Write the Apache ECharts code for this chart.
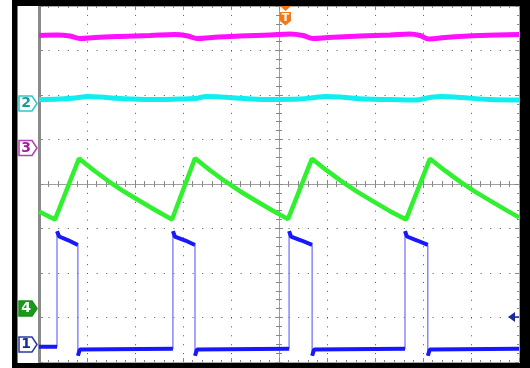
<!DOCTYPE html>
<html>
<head>
<meta charset="utf-8">
<script src="https://cdn.jsdelivr.net/npm/echarts@6/dist/echarts.min.js"></script>
<style>
html,body{margin:0;padding:0;background:#fff;}
#c{width:530px;height:368px;}
</style>
</head>
<body>
<div id="c"></div>
<script>
// Time axis: divisions -5..5, vertical axis: divisions -4..4
var timeDivs = [-5, 5];
var voltDivs = [-4, 4];

// Channel 3 (magenta) trace: [time div, vertical div]
var ch3Magenta = [
  [-5,3.337],[-4.625,3.348],[-4.354,3.326],[-4.146,3.270],[-3.833,3.292],[-3.313,3.315],
  [-2.688,3.337],[-2.167,3.360],[-1.896,3.326],[-1.708,3.270],[-1.396,3.292],[-0.813,3.326],
  [-0.188,3.348],[0.229,3.371],[0.5,3.337],[0.708,3.270],[1.021,3.292],[1.688,3.326],
  [2.313,3.348],[2.729,3.371],[2.938,3.337],[3.125,3.258],[3.458,3.292],[4.188,3.337],[5,3.360]
];

// Channel 2 (cyan) trace
var ch2Cyan = [
  [-5,1.899],[-4.563,1.910],[-4.25,1.933],[-3.979,1.966],[-3.729,1.955],[-3.313,1.921],
  [-2.688,1.899],[-2.063,1.910],[-1.75,1.921],[-1.5,1.966],[-1.229,1.955],[-0.708,1.921],
  [-0.188,1.899],[0.438,1.910],[0.75,1.944],[0.958,1.966],[1.271,1.955],[1.792,1.910],
  [2.313,1.899],[2.833,1.888],[3.146,1.944],[3.396,1.966],[3.771,1.944],[4.396,1.899],[5,1.888]
];

// Channel 4 (green) sawtooth trace
var ch4Green = [
  [-5,-0.62],[-4.667,-0.80],
  [-4.167,0.573],[-3.854,0.303],[-3.542,0.056],[-3.229,-0.169],[-2.917,-0.371],[-2.563,-0.596],[-2.229,-0.798],
  [-1.75,0.58],[-1.438,0.31],[-1.125,0.063],[-0.813,-0.162],[-0.5,-0.364],[-0.146,-0.589],[0.1875,-0.79],
  [0.6875,0.57],[1.0,0.30],[1.313,0.053],[1.625,-0.172],[1.938,-0.374],[2.292,-0.599],[2.646,-0.80],
  [3.146,0.57],[3.458,0.30],[3.771,0.053],[4.083,-0.172],[4.396,-0.374],[4.75,-0.599],[5.0,-0.75]
];

// Channel 1 (blue) pulse trace
var ch1Blue = [
  [-5,-3.66],[-4.625,-3.66],[-4.625,-1.06],[-4.58,-1.18],[-4.40,-1.26],[-4.19,-1.37],
  [-4.19,-3.86],[-4.15,-3.72],[-2.21,-3.70],[-2.21,-1.06],[-2.17,-1.18],[-1.95,-1.27],[-1.75,-1.37],
  [-1.75,-3.86],[-1.71,-3.72],[0.21,-3.70],[0.21,-1.06],[0.25,-1.18],[0.47,-1.27],[0.69,-1.37],
  [0.69,-3.86],[0.73,-3.72],[2.625,-3.70],[2.625,-1.06],[2.665,-1.18],[2.88,-1.27],[3.10,-1.37],
  [3.10,-3.86],[3.14,-3.72],[5,-3.70]
];

// thick (horizontal) parts of the pulse: break at the vertical edges
var ch1BlueThick = [];
for (var i = 0; i < ch1Blue.length; i++) {
  if (i > 0 && Math.abs(ch1Blue[i][0] - ch1Blue[i-1][0]) < 0.001) ch1BlueThick.push(null);
  ch1BlueThick.push(ch1Blue[i]);
}

var gridCol = '#555';
function centerX(pos) {
  return {type:'value', min:timeDivs[0], max:timeDivs[1], interval:1, position:pos,
    axisLine:{show:true, onZero:true, lineStyle:{color:'#9a9a9a', width:1, type:[2,1]}},
    axisTick:{show:true, inside:true, length:4, lineStyle:{color:'#888'}},
    minorTick:{show:true, splitNumber:5, length:3, lineStyle:{color:'#888'}},
    axisLabel:{show:false},
    splitLine:{show: pos==='bottom', lineStyle:{color:gridCol, width:1, type:[1,7.9]}}};
}
function edgeX(pos) {
  return {type:'value', min:timeDivs[0], max:timeDivs[1], interval:1, position:pos,
    axisLine:{show:true, onZero:false, lineStyle:{color:'#aaa', width:1}},
    axisTick:{show:true, inside:true, length:4, lineStyle:{color:'#888'}},
    minorTick:{show:true, splitNumber:5, length:2, lineStyle:{color:'#888'}},
    axisLabel:{show:false}, splitLine:{show:false}};
}
function centerY(pos) {
  return {type:'value', min:voltDivs[0], max:voltDivs[1], interval:1, position:pos,
    axisLine:{show:true, onZero:true, lineStyle:{color:'#9a9a9a', width:1, type:[2,1]}},
    axisTick:{show:true, inside:true, length:4, lineStyle:{color:'#888'}},
    minorTick:{show:true, splitNumber:5, length:3, lineStyle:{color:'#888'}},
    axisLabel:{show:false},
    splitLine:{show: pos==='left', lineStyle:{color:gridCol, width:1, type:[1,8.6]}}};
}
function edgeY(pos, w, col) {
  return {type:'value', min:voltDivs[0], max:voltDivs[1], interval:1, position:pos,
    axisLine:{show:true, onZero:false, lineStyle:{color:col, width:w}},
    axisTick:{show:true, inside:true, length:4, lineStyle:{color:'#888'}},
    minorTick:{show:true, splitNumber:5, length:2, lineStyle:{color:'#888'}},
    axisLabel:{show:false}, splitLine:{show:false}};
}

function marker(x, y, label, stroke, fill, textCol) {
  var h = 7.5;
  return [
    {type:'polygon', z:100, shape:{points:[[x,y-h],[x+13,y-h],[x+18,y],[x+13,y+h],[x,y+h]]},
      style:{fill:fill, stroke:stroke, lineWidth:1.5}},
    {type:'text', z:101, x:x+7, y:y, style:{text:label, fill:textCol, font:'bold 14px "DejaVu Sans"', align:'center', verticalAlign:'middle'}}
  ];
}

var graphics = [
  {type:'rect', z:90, shape:{x:12, y:0, width:518, height:6}, style:{fill:'#000'}},
  {type:'rect', z:90, shape:{x:12, y:0, width:5.5, height:368}, style:{fill:'#000'}},
  {type:'rect', z:90, shape:{x:520, y:0, width:10, height:368}, style:{fill:'#000'}},
  {type:'rect', z:90, shape:{x:12, y:363, width:518, height:5}, style:{fill:'#000'}},
  {type:'polygon', z:100, shape:{points:[[280,6],[291,6],[285.5,11]]}, style:{fill:'#f07a1a'}},
  {type:'polygon', z:100, shape:{points:[[280,12],[291,12],[291,21],[285.5,25.5],[280,21]]}, style:{fill:'#f07a1a'}},
  {type:'text', z:101, x:285.5, y:18, style:{text:'T', fill:'#fff', font:'bold 11px "DejaVu Sans"', align:'center', verticalAlign:'middle'}},
  {type:'polygon', z:100, shape:{points:[[508,317],[515,312],[515,322]]}, style:{fill:'#1a2aa0'}},
  {type:'line', z:100, shape:{x1:514, y1:317, x2:519, y2:317}, style:{stroke:'#1a2aa0', lineWidth:1.5}}
].concat(
  marker(19, 103.5, '2', '#30c8c8', '#fff', '#1a9a9a'),
  marker(19, 148, '3', '#b040b0', '#fff', '#a020a0'),
  marker(19, 308.5, '4', '#1a8f1a', '#1a9a1a', '#fff'),
  marker(19, 344.5, '1', '#2a3aa0', '#fff', '#1a2a9a')
);

var chart = echarts.init(document.getElementById('c'), null, {renderer:'canvas'});
chart.setOption({
  animation:false,
  backgroundColor:'#fff',
  grid:{left:39, top:6, width:480, height:356, show:false},
  xAxis:[centerX('bottom'), centerX('top'), edgeX('bottom'), edgeX('top')],
  yAxis:[centerY('left'), centerY('right'), edgeY('left', 3, '#8a8a8a'), edgeY('right', 1, '#aaa')],
  series:[
    {type:'line', data:ch3Magenta, showSymbol:false, smooth:0.4, lineStyle:{color:'#ff10ff', width:5}, z:3},
    {type:'line', data:ch2Cyan, showSymbol:false, smooth:0.4, lineStyle:{color:'#10eef0', width:5}, z:3},
    {type:'line', data:ch4Green, showSymbol:false, lineStyle:{color:'#30f030', width:4.5}, z:3},
    {type:'line', data:ch1Blue, showSymbol:false, lineStyle:{color:'#6a6aff', width:1.2}, z:4},
    {type:'line', data:ch1BlueThick, showSymbol:false, connectNulls:false, lineStyle:{color:'#1818ff', width:4}, z:5}
  ],
  graphic:graphics
});
</script>
</body>
</html>
